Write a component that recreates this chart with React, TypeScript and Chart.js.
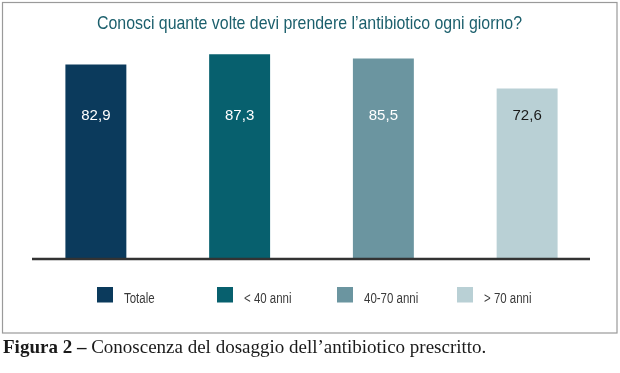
import React, { useEffect, useRef } from "react";
import { Chart, registerables } from "chart.js";

Chart.register(...registerables);

// ---- data ----
const categories = ["Totale", "< 40 anni", "40-70 anni", "> 70 anni"];
const values = [82.9, 87.3, 85.5, 72.6];
const valueLabels = ["82,9", "87,3", "85,5", "72,6"];
const barColors = ["#0b3a5c", "#07606e", "#6b95a0", "#b9d0d5"];
const valueLabelColors = ["#ffffff", "#ffffff", "#ffffff", "#1a1a1a"];
const titleText = "Conosci quante volte devi prendere l\u2019antibiotico ogni giorno?";
const captionBold = "Figura 2 \u2013";
const captionRest = " Conoscenza del dosaggio dell\u2019antibiotico prescritto.";
const yMin = 0;
const yMax = 100;
const valueLabelLevel = 61;

const W = 620;
const H = 373;
const SANS = "'Liberation Sans', Arial, sans-serif";
const SERIF = "'Liberation Serif', 'DejaVu Serif', serif";

function condensedText(ctx: any, text: string, x: number, y: number, sx: number, align: string) {
  ctx.save();
  ctx.translate(x, y);
  ctx.scale(sx, 1);
  ctx.textAlign = align;
  ctx.fillText(text, 0, 0);
  ctx.restore();
}

const decorPlugin = {
  id: "decor",
  beforeDraw(chart: any) {
    const ctx = chart.ctx;
    ctx.save();
    ctx.fillStyle = "#ffffff";
    ctx.fillRect(0, 0, W, H);
    // frame
    ctx.strokeStyle = "#9a9a9a";
    ctx.lineWidth = 1.2;
    ctx.strokeRect(2.5, 2.5, 614.5, 330.5);
    // title
    ctx.fillStyle = "#1b5f6c";
    ctx.font = `18.5px ${SANS}`;
    ctx.textBaseline = "alphabetic";
    const tw = ctx.measureText(titleText).width;
    condensedText(ctx, titleText, 309.5, 29, 425 / tw, "center");
    // legend
    ctx.font = `15.5px ${SANS}`;
    categories.forEach((c, i) => {
      const x = 97 + i * 120;
      ctx.fillStyle = barColors[i];
      ctx.fillRect(x, 287, 16, 15.5);
      ctx.fillStyle = "#3a3a3a";
      condensedText(ctx, c, x + 27, 302.5, 0.74, "left");
    });
    // caption
    ctx.fillStyle = "#1a1a1a";
    ctx.textAlign = "left";
    ctx.font = `bold 19px ${SERIF}`;
    ctx.fillText(captionBold, 3, 353);
    const bw = ctx.measureText(captionBold).width;
    ctx.font = `19px ${SERIF}`;
    ctx.fillText(captionRest, 3 + bw, 353);
    ctx.restore();
  },
  afterDatasetsDraw(chart: any) {
    const ctx = chart.ctx;
    const area = chart.chartArea;
    const yScale = chart.scales.y;
    const meta = chart.getDatasetMeta(0);
    ctx.save();
    // axis line
    const y0 = yScale.getPixelForValue(0) + 1;
    ctx.strokeStyle = "#333333";
    ctx.lineWidth = 2.5;
    ctx.beginPath();
    ctx.moveTo(area.left + 8, y0);
    ctx.lineTo(area.right - 9, y0);
    ctx.stroke();
    // value labels
    ctx.font = `15px ${SANS}`;
    ctx.textAlign = "center";
    ctx.textBaseline = "middle";
    const ly = yScale.getPixelForValue(valueLabelLevel);
    meta.data.forEach((bar: any, i: number) => {
      ctx.fillStyle = valueLabelColors[i];
      ctx.fillText(valueLabels[i], bar.x, ly);
    });
    ctx.restore();
  },
};

export default function App() {
  const ref = useRef<HTMLCanvasElement | null>(null);
  useEffect(() => {
    if (!ref.current) return;
    const chart = new Chart(ref.current, {
      type: "bar",
      data: {
        labels: categories,
        datasets: [
          {
            data: values,
            backgroundColor: barColors,
            borderWidth: 0,
            categoryPercentage: 1,
            barPercentage: 0.424,
          },
        ],
      },
      options: {
        responsive: false,
        animation: false,
        devicePixelRatio: 1,
        layout: { padding: { left: 24, right: 21, top: 24.7, bottom: H - 258 } },
        scales: {
          x: { display: false },
          y: { display: false, min: yMin, max: yMax },
        },
        plugins: {
          legend: { display: false },
          tooltip: { enabled: false },
          title: { display: false },
        },
      },
      plugins: [decorPlugin],
    });
    return () => chart.destroy();
  }, []);
  return (
    <div style={{ position: "absolute", left: 0, top: 0, width: W, height: H, background: "#fff" }}>
      <canvas ref={ref} width={W} height={H} style={{ width: W, height: H, display: "block" }} />
    </div>
  );
}
